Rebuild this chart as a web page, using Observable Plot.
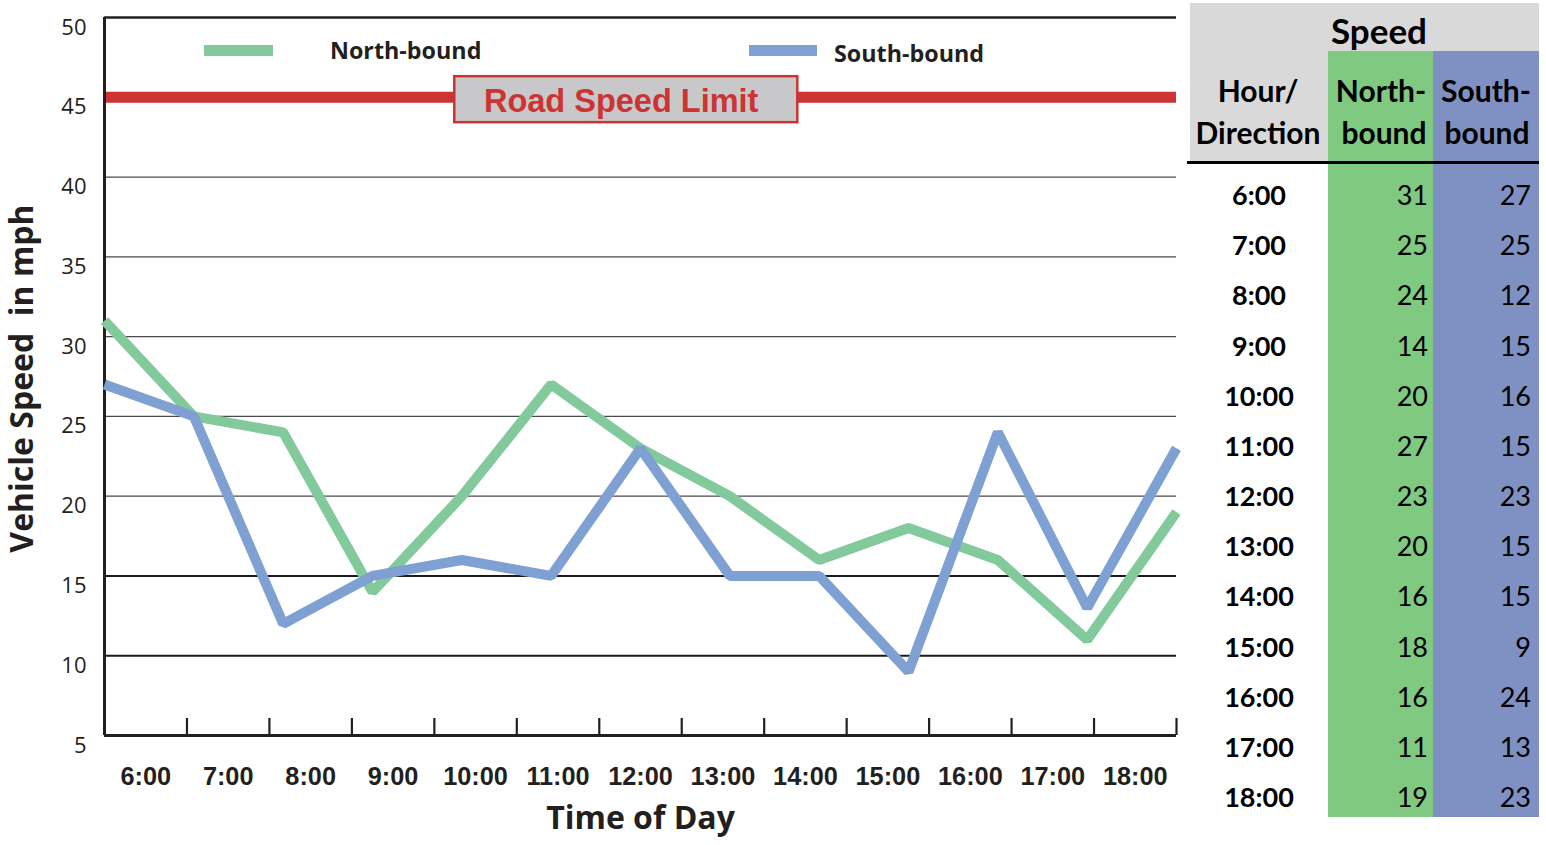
<!DOCTYPE html>
<html>
<head>
<meta charset="utf-8">
<script src="https://cdn.jsdelivr.net/npm/d3@7"></script>
<script src="https://cdn.jsdelivr.net/npm/@observablehq/plot@0.6"></script>
<style>
  body { margin: 0; background: #fff; width: 1546px; height: 845px; overflow: hidden; position: relative; }
  #chart { position: absolute; left: 0; top: 0; }
  .abs { position: absolute; white-space: nowrap; }
  .leg { font-family: "Open Sans", sans-serif; font-weight: 700; font-size: 23.3px; color: #231f20; transform: translateY(-50%); }
  .tbl { font-family: Lato, "Open Sans", sans-serif; font-size: 27px; color: #000; line-height: 1; }
</style>
</head>
<body>
<div id="chart"></div>
<div id="overlay"></div>
<script>
// ---- data ----
const hours = ["6:00","7:00","8:00","9:00","10:00","11:00","12:00","13:00","14:00","15:00","16:00","17:00","18:00"];
const northbound = [31, 25, 24, 14, 20, 27, 23, 20, 16, 18, 16, 11, 19];
const southbound = [27, 25, 12, 15, 16, 15, 23, 15, 15, 9, 24, 13, 23];
const yTicks = [5, 10, 15, 20, 25, 30, 35, 40, 45, 50];
const gridMinor = [20, 25, 30, 35, 40];
const gridMajor = [10, 15];
const speedLimit = 45;
const speedLimitLabel = "Road Speed Limit";
const seriesNames = ["North-bound", "South-bound"];

// ---- styles ----
const GREEN = "#82c99b", BLUE = "#7ea0d3", RED = "#cc3333";
const TGREEN = "#80c980", TBLUE = "#7f91c3", TGREY = "#d9d9d9";

const rows = hours.map((h, i) => ({i, h, n: northbound[i], s: southbound[i]}));
const n = hours.length;
const last = n - 1;
const yMin = 5, yMax = 50;
const W = 1185, H = 845, mL = 104, mR = 9, mT = 17, mB = 110;
const pxPerUnit = (H - mT - mB) / (yMax - yMin);
const tickLen = 17 / pxPerUnit;
const band = k => k * last / n; // band boundaries on the point scale
const labelCenter = 5.84;

const chart = Plot.plot({
  width: W, height: H,
  marginLeft: mL, marginRight: mR, marginTop: mT, marginBottom: mB,
  x: {domain: [0, last], axis: null},
  y: {domain: [yMin, yMax], axis: null},
  style: {background: "#fff", overflow: "visible"},
  marks: [
    Plot.ruleY(gridMinor, {stroke: "#4a4a4a", strokeWidth: 1.3}),
    Plot.ruleY(gridMajor, {stroke: "#1a1a1a", strokeWidth: 2}),
    Plot.ruleY([yMax], {stroke: "#231f20", strokeWidth: 2.5}),
    Plot.ruleY([speedLimit], {stroke: RED, strokeWidth: 11}),
    Plot.ruleX(hours, {x: (d, i) => band(i + 1), y1: yMin, y2: yMin + tickLen, stroke: "#231f20", strokeWidth: 2.2}),
    Plot.ruleY([yMin], {stroke: "#231f20", strokeWidth: 3}),
    Plot.ruleX([0], {y1: yMin, y2: yMax, stroke: "#231f20", strokeWidth: 3}),
    Plot.text(yTicks, {x: 0, y: d => d, text: d => String(d), dx: -18, dy: 10, textAnchor: "end",
      fontSize: 22, fontFamily: "Open Sans", fill: "#231f20"}),
    Plot.text(hours, {x: (d, i) => band(i + 0.5), y: yMin, text: d => d, dy: 41,
      fontSize: 25.3, fontWeight: "bold", fontFamily: "Liberation Sans", fill: "#231f20"}),
    Plot.text(["Time of Day"], {frameAnchor: "bottom", text: d => d, dy: 83, lineAnchor: "middle",
      fontSize: 32, fontWeight: "bold", fontFamily: "Open Sans", fill: "#231f20"}),
    Plot.text(["Vehicle Speed  in mph"], {frameAnchor: "left", text: d => d, dx: -82, rotate: -90,
      textAnchor: "middle", lineAnchor: "middle", dy: 2,
      fontSize: 32, fontWeight: "bold", fontFamily: "Open Sans", fill: "#231f20"}),
    Plot.line(rows, {x: "i", y: "n", stroke: GREEN, strokeWidth: 10, strokeLinejoin: "miter", strokeLinecap: "butt"}),
    Plot.line(rows, {x: "i", y: "s", stroke: BLUE, strokeWidth: 10, strokeLinejoin: "miter", strokeLinecap: "butt"}),
    Plot.text([speedLimitLabel], {x: labelCenter, y: speedLimit, text: d => d, className: "limit-label",
      fontSize: 32.5, fontWeight: "bold", fontFamily: "Liberation Sans", fill: RED})
  ]
});
document.getElementById("chart").appendChild(chart);

// background box behind the speed-limit label
(function () {
  const t = [...chart.querySelectorAll("text")].find(t => t.textContent === speedLimitLabel);
  const g = t.parentNode;
  const bb = t.getBBox();
  const m = t.transform.baseVal.consolidate();
  let cx = bb.x + bb.width / 2, cy = bb.y + bb.height / 2;
  if (m) { cx += m.matrix.e; cy += m.matrix.f; }
  const bw = 343, bh = 46;
  const rect = document.createElementNS("http://www.w3.org/2000/svg", "rect");
  rect.setAttribute("x", cx - bw / 2);
  rect.setAttribute("y", cy - bh / 2 + 3);
  rect.setAttribute("width", bw);
  rect.setAttribute("height", bh);
  rect.setAttribute("fill", "#c8c8ca");
  rect.setAttribute("stroke", RED);
  rect.setAttribute("stroke-width", 2.5);
  g.parentNode.insertBefore(rect, g);
  // text sits slightly left of and below the box centre in the reference
  t.setAttribute("transform", `translate(${(m ? m.matrix.e : 0) - 5},${(m ? m.matrix.f : 0) + 4})`);
})();

// ---- overlay: legend + table ----
const ov = document.getElementById("overlay");
function div(cls, css, html) {
  const d = document.createElement("div");
  d.className = "abs " + (cls || "");
  d.style.cssText = css;
  if (html !== undefined) d.textContent = html;
  ov.appendChild(d);
  return d;
}
// legend
div("", `left:204px;top:45px;width:69px;height:11px;background:${GREEN};`);
div("leg", `left:330px;top:50px;`, seriesNames[0]);
div("", `left:749px;top:45px;width:68px;height:11px;background:${BLUE};`);
div("leg", `left:834px;top:53px;`, seriesNames[1]);

// table
const tx0 = 1190, tc1 = 1328, tc2 = 1433, tx1 = 1539;
div("", `left:${tx0}px;top:3px;width:${tx1 - tx0}px;height:159px;background:${TGREY};`);
div("", `left:${tc1}px;top:51px;width:${tc2 - tc1}px;height:766px;background:${TGREEN};`);
div("", `left:${tc2}px;top:51px;width:${tx1 - tc2}px;height:766px;background:${TBLUE};`);
div("", `left:1187px;top:160.5px;width:${tx1 - 1187}px;height:3px;background:#000;`);
function ctext(txt, cx, cy, bold, align, size) {
  const d = div("tbl", `top:${cy}px;font-weight:${bold ? 700 : 400};` + (size ? `font-size:${size}px;` : "") +
    (align === "right" ? `right:${1546 - cx}px;transform:translateY(-50%);` : `left:${cx}px;transform:translate(-50%,-50%);`), txt);
  return d;
}
ctext("Speed", 1379, 30, true, null, 35);
ctext("Hour/", 1258, 90, true, null, 30);
ctext("Direction", 1258, 132, true, null, 30);
ctext("North-", 1381, 90, true, null, 30);
ctext("bound", 1384, 132, true, null, 30);
ctext("South-", 1486, 90, true, null, 30);
ctext("bound", 1487, 132, true, null, 30);
const rowStep = (796 - 194) / (n - 1);
rows.forEach((r, i) => {
  const cy = 194 + i * rowStep;
  ctext(r.h, 1259, cy, true);
  ctext(String(r.n), 1428, cy, false, "right");
  ctext(String(r.s), 1531, cy, false, "right");
});
</script>
</body>
</html>
